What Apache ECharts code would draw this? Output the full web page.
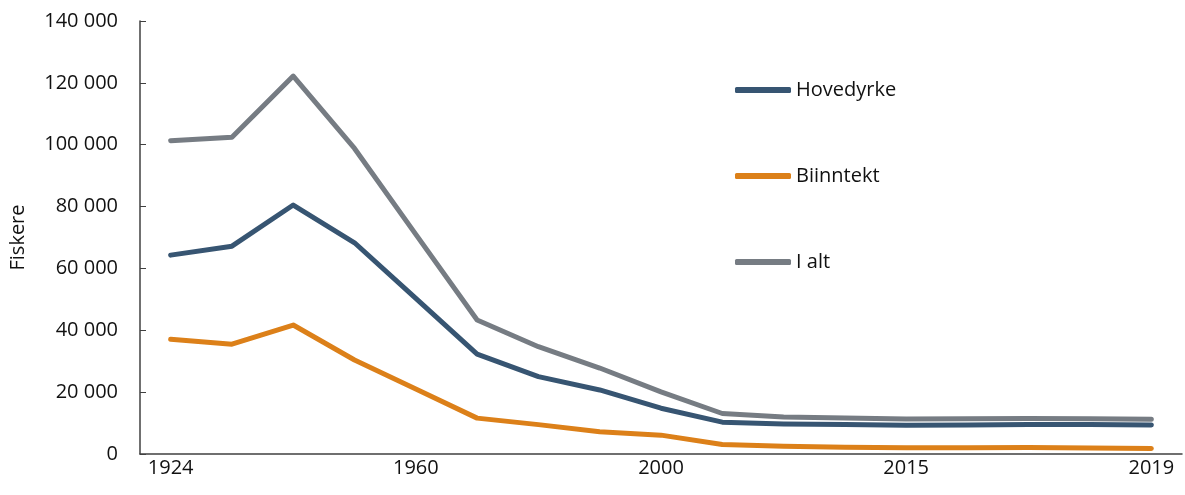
<!DOCTYPE html>
<html>
<head>
<meta charset="utf-8">
<script src="https://cdn.jsdelivr.net/npm/echarts@6/dist/echarts.min.js"></script>
<style>
  html, body { margin: 0; padding: 0; background: #fff; }
  #chart { width: 1185px; height: 495px; }
</style>
</head>
<body>
<div id="chart"></div>
<script>
// kategorier (bare hvert fjerde år vises på aksen)
var years = ['1924', '1930', '1938', '1948', '1960', '1970', '1980', '1990', '2000',
  '2005', '2010', '2014', '2015', '2016', '2017', '2018', '2019'];
var hovedyrke = [64300, 67200, 80500, 68300, 50300, 32300, 25000, 20700, 14800,
  10300, 9700, 9500, 9300, 9400, 9500, 9500, 9400];
var biinntekt = [37100, 35500, 41700, 30400, 21000, 11600, 9500, 7200, 6100,
  3100, 2500, 2200, 2000, 2000, 2100, 1900, 1800];
var iAlt = [101300, 102400, 122200, 98800, 71000, 43300, 34700, 27800, 20100,
  13100, 12000, 11600, 11300, 11400, 11500, 11400, 11200];

var fontFam = '"Open Sans", "Liberation Sans", sans-serif';
var textColor = '#111';
var axisColor = '#404040';

var chart = echarts.init(document.getElementById('chart'));

function fmt(v) {
  return String(v).replace(/\B(?=(\d{3})+(?!\d))/g, ' ');
}

function serie(name, data, color) {
  return {
    name: name,
    type: 'line',
    data: data,
    symbol: 'none',
    lineStyle: { color: color, width: 5, cap: 'round', join: 'round' },
    itemStyle: { color: color },
    animation: false
  };
}

chart.setOption({
  animation: false,
  grid: { left: 140, right: 3, top: 21, bottom: 41, containLabel: false },
  legend: {
    orient: 'vertical',
    left: 735,
    top: 80,
    padding: 0,
    itemWidth: 56,
    itemHeight: 6,
    itemGap: 66,
    icon: 'roundRect',
    textStyle: { fontFamily: fontFam, fontSize: 20, color: textColor },
    data: ['Hovedyrke', 'Biinntekt', 'I alt']
  },
  xAxis: {
    type: 'category',
    data: years,
    boundaryGap: true,
    axisLine: { lineStyle: { color: axisColor, width: 1.5 } },
    axisTick: { inside: true, interval: 3, length: 6, lineStyle: { color: axisColor } },
    axisLabel: { interval: 3, fontFamily: fontFam, fontSize: 20, color: textColor, margin: 4 }
  },
  yAxis: {
    type: 'value',
    min: 0,
    max: 140000,
    interval: 20000,
    name: 'Fiskere',
    nameLocation: 'middle',
    nameGap: 112,
    nameRotate: 90,
    nameTextStyle: { fontFamily: fontFam, fontSize: 20, color: textColor },
    axisLine: { show: true, lineStyle: { color: axisColor, width: 1.5 } },
    axisTick: { show: true, inside: true, length: 6, lineStyle: { color: axisColor } },
    splitLine: { show: false },
    axisLabel: {
      fontFamily: fontFam, fontSize: 20, color: textColor, margin: 22,
      formatter: function (v) { return fmt(v); }
    }
  },
  series: [
    serie('Hovedyrke', hovedyrke, '#375572'),
    serie('Biinntekt', biinntekt, '#dc8019'),
    serie('I alt', iAlt, '#767c83')
  ]
});
</script>
</body>
</html>
